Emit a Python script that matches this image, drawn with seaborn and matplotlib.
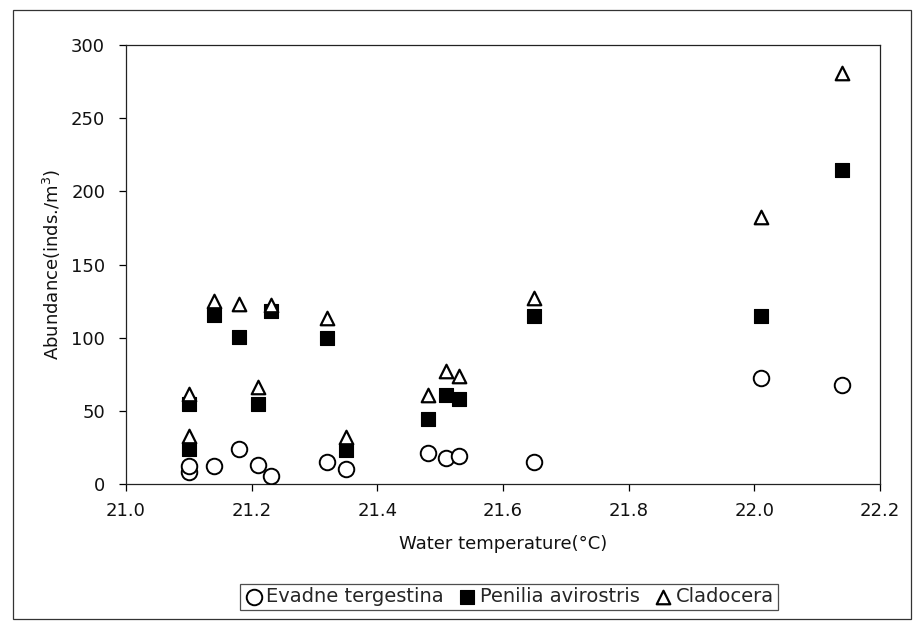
import matplotlib
matplotlib.use("Agg")
import matplotlib.pyplot as plt
import seaborn as sns
import pandas as pd
from matplotlib.patches import Rectangle

temperature = [21.10, 21.10, 21.14, 21.18, 21.21, 21.23, 21.32, 21.35,
               21.48, 21.51, 21.53, 21.65, 22.01, 22.14]
evadne = [8, 12, 12, 24, 13, 5.5, 15, 10, 21, 17.5, 19, 15, 72.5, 67.5]
penilia = [55, 24, 115.5, 100.5, 55, 118, 100, 23, 44.5, 61, 58, 114.5, 114.5, 214.5]
cladocera = [61.5, 33, 125, 123, 66, 122, 113.5, 32, 61, 77, 74, 127, 182.5, 281]
series_names = ["Evadne tergestina", "Penilia avirostris", "Cladocera"]
x_ticks = [21.0, 21.2, 21.4, 21.6, 21.8, 22.0, 22.2]
y_ticks = [0, 50, 100, 150, 200, 250, 300]

sns.set_theme(style="white")
plt.rcParams['font.family'] = ['DejaVu Sans']

df = pd.DataFrame({"temp": temperature, "ev": evadne, "pe": penilia, "cl": cladocera})

fig = plt.figure(figsize=(9.16, 6.22), dpi=100)
ax = fig.add_axes([126/916, 1-484/622, (880-126)/916, (484-45)/622])

sns.scatterplot(data=df, x="temp", y="ev", ax=ax, marker="o", s=125,
                facecolor="white", edgecolor="black", linewidth=1.4,
                label=series_names[0], zorder=3)
sns.scatterplot(data=df, x="temp", y="pe", ax=ax, marker="s", s=115,
                facecolor="black", edgecolor="black", linewidth=0.8,
                label=series_names[1], zorder=4)
sns.scatterplot(data=df, x="temp", y="cl", ax=ax, marker="^", s=95,
                facecolor="white", edgecolor="black", linewidth=1.6,
                label=series_names[2], zorder=5)

ax.set_xlim(21.0, 22.2)
ax.set_ylim(0, 300)
ax.set_xticks(x_ticks)
ax.set_xticklabels([f"{v:.1f}" for v in x_ticks])
ax.set_yticks(y_ticks)
ax.tick_params(axis="both", which="major", labelsize=13, direction="out",
               length=5, width=0.9, color="black", labelcolor="#111111",
               left=True, bottom=True)
ax.tick_params(axis="x", pad=8)
ax.tick_params(axis="y", pad=10)
for sp in ax.spines.values():
    sp.set_visible(True)
    sp.set_color("#222222")
    sp.set_linewidth(0.9)

ax.set_xlabel("Water temperature(°C)", fontsize=13, color="#111111", labelpad=11)
ax.set_ylabel("Abundance(inds./m$^3$)", fontsize=13, color="#111111", labelpad=6)
ax.grid(False)

leg = ax.legend(loc="center", bbox_to_anchor=(509/916, 1-597/622),
                bbox_transform=fig.transFigure, ncol=3, fontsize=14,
                frameon=True, fancybox=False, edgecolor="#222222",
                handletextpad=0.15, columnspacing=0.7, borderpad=0.2,
                handlelength=1.0, borderaxespad=0)
leg.get_frame().set_linewidth(0.9)

fig.patches.append(Rectangle((13/916, 1-619/622), (911-13)/916, (619-10)/622,
                             transform=fig.transFigure, fill=False,
                             edgecolor="#333333", linewidth=0.9))

fig.savefig("out.png", dpi=100, facecolor="white")
